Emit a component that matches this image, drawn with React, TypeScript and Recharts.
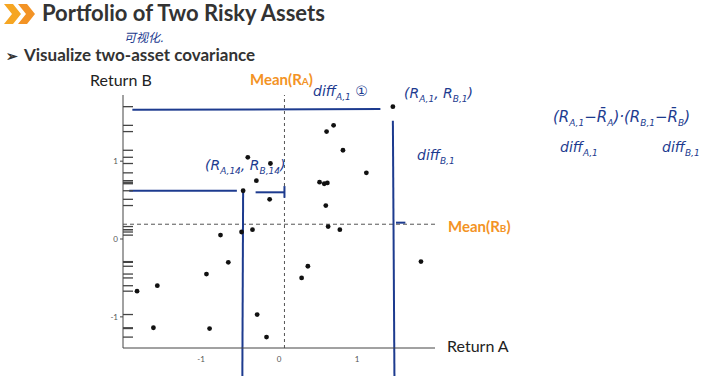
import React from "react";
import {
	ScatterChart,
	Scatter,
	XAxis,
	YAxis,
	ReferenceLine,
} from "recharts";

const returnA = [
	1.46, 0.7, 0.61, 0.82, -0.11, 1.12, -0.29, 0.52, 0.58, 0.62, -0.46, -0.12,
	0.6, 0.63, 0.78, -0.48, -0.34, -0.75, 1.82, -0.65, 0.37, -0.93, 0.29, -1.56,
	-1.82, -0.28, -1.61, -0.89, -0.16, -0.4,
];
const returnB = [
	1.7, 1.46, 1.38, 1.14, 0.97, 0.85, 0.75, 0.73, 0.71, 0.72, 0.62, 0.51, 0.43,
	0.16, 0.12, 0.09, 0.12, 0.05, -0.29, -0.3, -0.35, -0.45, -0.5, -0.6, -0.67,
	-0.97, -1.14, -1.15, -1.26, 1.05,
];

const xTicks = [-1, 0, 1];
const yTicks = [-1, 0, 1];
const xDomain = [-2, 2];
const yDomain = [-1.4, 1.85];
const meanA = 0.07;
const meanB = 0.19;

// handwritten strokes on the slide (data coordinates)
const penStrokes = [
	[{ x: -1.88, y: 1.66 }, { x: 1.3, y: 1.67 }],
	[{ x: 1.46, y: 1.52 }, { x: 1.48, y: -1.78 }],
	[{ x: -1.92, y: 0.62 }, { x: -0.54, y: 0.62 }],
	[{ x: -0.46, y: 0.6 }, { x: -0.47, y: -1.78 }],
	[{ x: 0.07, y: 0.68 }, { x: 0.07, y: 0.53 }],
	[{ x: 0.07, y: 0.6 }, { x: -0.3, y: 0.6 }],
	[{ x: 1.5, y: 0.21 }, { x: 1.62, y: 0.21 }],
];

const points = returnA.map((a, i) => ({ x: a, y: returnB[i] }));
const rug = returnB.map((b) => ({ x: xDomain[0], y: b }));

const ink = "#1d3b8f";
const orange = "#f39325";

const RugTick = (props: { cx?: number; cy?: number }) => {
	const cx = Number(props.cx ?? 0);
	const cy = Number(props.cy ?? 0);
	return <line x1={cx} y1={cy} x2={cx + 10} y2={cy} stroke="#444" strokeWidth={1.3} />;
};

const Dot = (props: { cx?: number; cy?: number }) => (
	<circle cx={props.cx} cy={props.cy} r={2.4} fill="#111" />
);

const txt = (style: React.CSSProperties): React.CSSProperties => ({
	position: "absolute",
	whiteSpace: "nowrap",
	lineHeight: 1,
	...style,
});

const pen = (style: React.CSSProperties): React.CSSProperties =>
	txt({ color: ink, fontFamily: "'DejaVu Sans'", fontStyle: "italic", ...style });

export default function App() {
	return (
		<div
			style={{
				position: "absolute",
				left: 0,
				top: 0,
				width: 728,
				height: 376,
				background: "#fff",
				overflow: "hidden",
				fontFamily: "Lato, 'Open Sans', sans-serif",
			}}
		>
			<svg width={40} height={26} style={{ position: "absolute", left: 2, top: 2 }}>
				<polygon points="2,2 11,2 19,12 11,22 2,22 10,12" fill="#f6a623" />
				<polygon points="16,2 25,2 33,12 25,22 16,22 24,12" fill="#f39325" />
			</svg>
			<div style={txt({ left: 42, top: 2, fontSize: 22, fontWeight: 700, color: "#333" })}>
				Portfolio of Two Risky Assets
			</div>
			<div style={txt({ left: 6, top: 46, fontSize: 17, fontWeight: 700, color: "#333" })}>
				<span style={{ fontSize: 14, marginRight: 6 }}>➢</span>Visualize two-asset covariance
			</div>
			<div style={txt({ left: 90, top: 72, fontSize: 16, color: "#222" })}>Return B</div>
			<div style={txt({ left: 250, top: 72, fontSize: 15, fontWeight: 700, color: orange })}>
				Mean(R<span style={{ fontSize: 10 }}>A</span>)
			</div>
			<div style={txt({ left: 448, top: 219, fontSize: 15, fontWeight: 700, color: orange })}>
				Mean(R<span style={{ fontSize: 10 }}>B</span>)
			</div>
			<div style={txt({ left: 447, top: 338, fontSize: 16, color: "#222" })}>Return A</div>

			<ScatterChart
				width={728}
				height={376}
				margin={{ top: 95, right: 293, bottom: 8, left: 101 }}
				style={{ position: "absolute", left: 0, top: 0 }}
			>
				<XAxis
					type="number"
					dataKey="x"
					domain={xDomain}
					ticks={xTicks}
					tickLine={false}
					tick={{ fontSize: 8, fill: "#555" }}
					stroke="#444"
					height={20}
					tickMargin={2}
				/>
				<YAxis
					type="number"
					dataKey="y"
					domain={yDomain}
					ticks={yTicks}
					tickSize={3}
					tick={{ fontSize: 8, fill: "#555" }}
					stroke="#444"
					width={22}
					tickMargin={2}
				/>
				<ReferenceLine x={meanA} stroke="#555" strokeDasharray="3 3" />
				<ReferenceLine y={meanB} stroke="#555" strokeDasharray="4 3" />
				<Scatter data={rug} shape={<RugTick />} isAnimationActive={false} />
				<Scatter data={points} shape={<Dot />} isAnimationActive={false} />
				{penStrokes.map((seg, i) => (
					<ReferenceLine
						key={i}
						segment={seg}
						stroke={ink}
						strokeWidth={2}
						ifOverflow="visible"
					/>
				))}
			</ScatterChart>

			<div style={pen({ left: 124, top: 31, fontSize: 12, fontFamily: "'Noto Sans CJK SC'" })}>可视化.</div>
			<div style={pen({ left: 313, top: 84, fontSize: 14 })}>diff<sub style={{ fontSize: 9 }}>A,1</sub> ①</div>
			<div style={pen({ left: 404, top: 86, fontSize: 14 })}>(R<sub style={{ fontSize: 9 }}>A,1</sub>, R<sub style={{ fontSize: 9 }}>B,1</sub>)</div>
			<div style={pen({ left: 205, top: 158, fontSize: 14 })}>(R<sub style={{ fontSize: 9 }}>A,14</sub>, R<sub style={{ fontSize: 9 }}>B,14</sub>)</div>
			<div style={pen({ left: 417, top: 148, fontSize: 14 })}>diff<sub style={{ fontSize: 9 }}>B,1</sub></div>
			<div style={pen({ left: 553, top: 110, fontSize: 15 })}>
				(R<sub style={{ fontSize: 9 }}>A,1</sub>−R̄<sub style={{ fontSize: 9 }}>A</sub>)·(R<sub style={{ fontSize: 9 }}>B,1</sub>−R̄<sub style={{ fontSize: 9 }}>B</sub>)
			</div>
			<div style={pen({ left: 560, top: 140, fontSize: 14 })}>
				diff<sub style={{ fontSize: 9 }}>A,1</sub>
			</div>
			<div style={pen({ left: 662, top: 140, fontSize: 14 })}>
				diff<sub style={{ fontSize: 9 }}>B,1</sub>
			</div>
		</div>
	);
}
